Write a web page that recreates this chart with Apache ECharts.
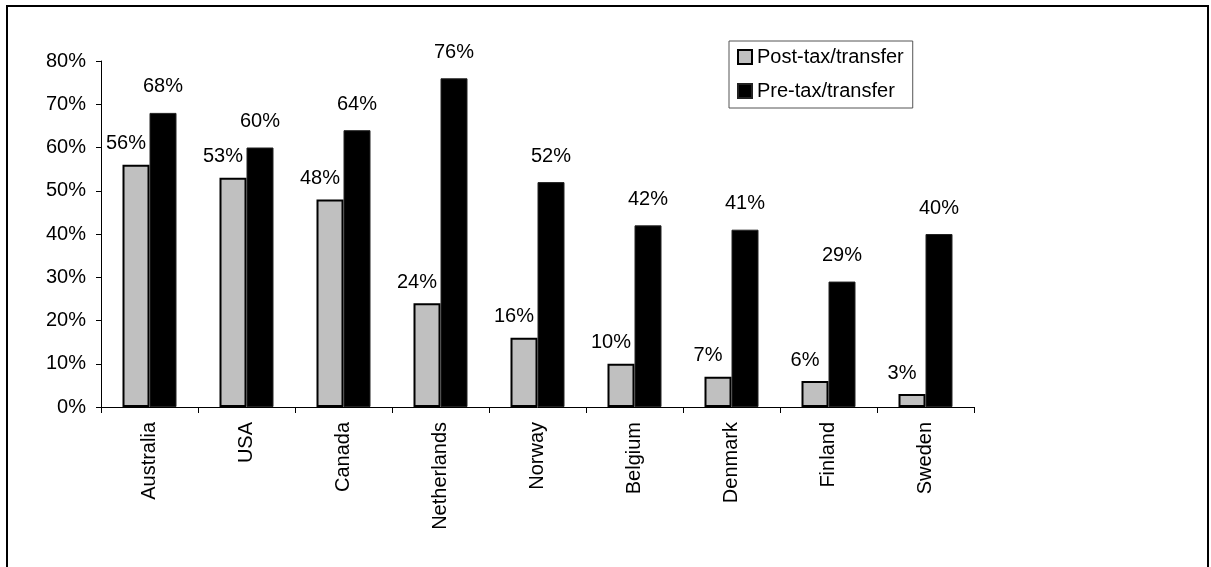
<!DOCTYPE html>
<html>
<head>
<meta charset="utf-8">
<script src="https://cdn.jsdelivr.net/npm/echarts@6/dist/echarts.min.js"></script>
<style>
  html, body { margin: 0; padding: 0; background: #fff; }
  #container { width: 1211px; height: 567px; }
</style>
</head>
<body>
<div id="container"></div>
<script>
  // data
  const countries = ['Australia', 'USA', 'Canada', 'Netherlands', 'Norway', 'Belgium', 'Denmark', 'Finland', 'Sweden'];
  const postTax = [56, 53, 48, 24, 16, 10, 7, 6, 3];
  const preTax = [68, 60, 64, 76, 52, 42, 41, 29, 40];
  const seriesNames = ['Post-tax/transfer', 'Pre-tax/transfer'];

  const font = '"Liberation Sans", Arial, sans-serif';

  let myChart = echarts.init(document.getElementById('container'));
  let option = {
    backgroundColor: '#fff',
    animation: false,
    textStyle: { fontFamily: font, color: '#000' },
    graphic: [{
      type: 'rect',
      shape: { x: 7, y: 6, width: 1201, height: 600 },
      style: { fill: 'none', stroke: '#000', lineWidth: 2 },
      silent: true
    }],
    legend: {
      orient: 'vertical',
      left: 729,
      top: 41,
      padding: [6, 9, 7, 8],
      itemGap: 14,
      itemWidth: 14,
      itemHeight: 14,
      icon: 'rect',
      borderColor: '#555',
      borderWidth: 1,
      backgroundColor: '#fff',
      textStyle: { fontSize: 20, fontFamily: font, color: '#000' },
      data: seriesNames
    },
    grid: {
      left: 101,
      right: 237,
      top: 61,
      bottom: 160,
      containLabel: false
    },
    xAxis: {
      type: 'category',
      data: countries,
      axisLine: { lineStyle: { color: '#000', width: 1 } },
      axisTick: { show: true, length: 6, lineStyle: { color: '#000' } },
      axisLabel: {
        rotate: 90,
        margin: 15,
        fontSize: 20,
        fontFamily: font,
        color: '#000'
      }
    },
    yAxis: {
      type: 'value',
      min: 0,
      max: 80,
      interval: 10,
      splitLine: { show: false },
      axisLine: { show: true, lineStyle: { color: '#000', width: 1 } },
      axisTick: { show: true, length: 5, lineStyle: { color: '#000' } },
      axisLabel: {
        formatter: '{value}%',
        margin: 15,
        fontSize: 20,
        fontFamily: font,
        color: '#000'
      }
    },
    series: [{
      name: seriesNames[0],
      type: 'bar',
      data: postTax,
      barWidth: 27,
      barGap: '0%',
      itemStyle: { color: '#c0c0c0', borderColor: '#000', borderWidth: 2 },
      label: {
        show: true,
        position: 'top',
        distance: 11,
        offset: [-10, 0],
        formatter: '{c}%',
        fontSize: 20,
        fontFamily: font,
        color: '#000'
      }
    }, {
      name: seriesNames[1],
      type: 'bar',
      data: preTax,
      barWidth: 27,
      barGap: '0%',
      itemStyle: { color: '#000', borderColor: '#222', borderWidth: 1 },
      label: {
        show: true,
        position: 'top',
        distance: 16,
        formatter: '{c}%',
        fontSize: 20,
        fontFamily: font,
        color: '#000'
      }
    }]
  };
  myChart.setOption(option, true);
</script>
</body>
</html>
